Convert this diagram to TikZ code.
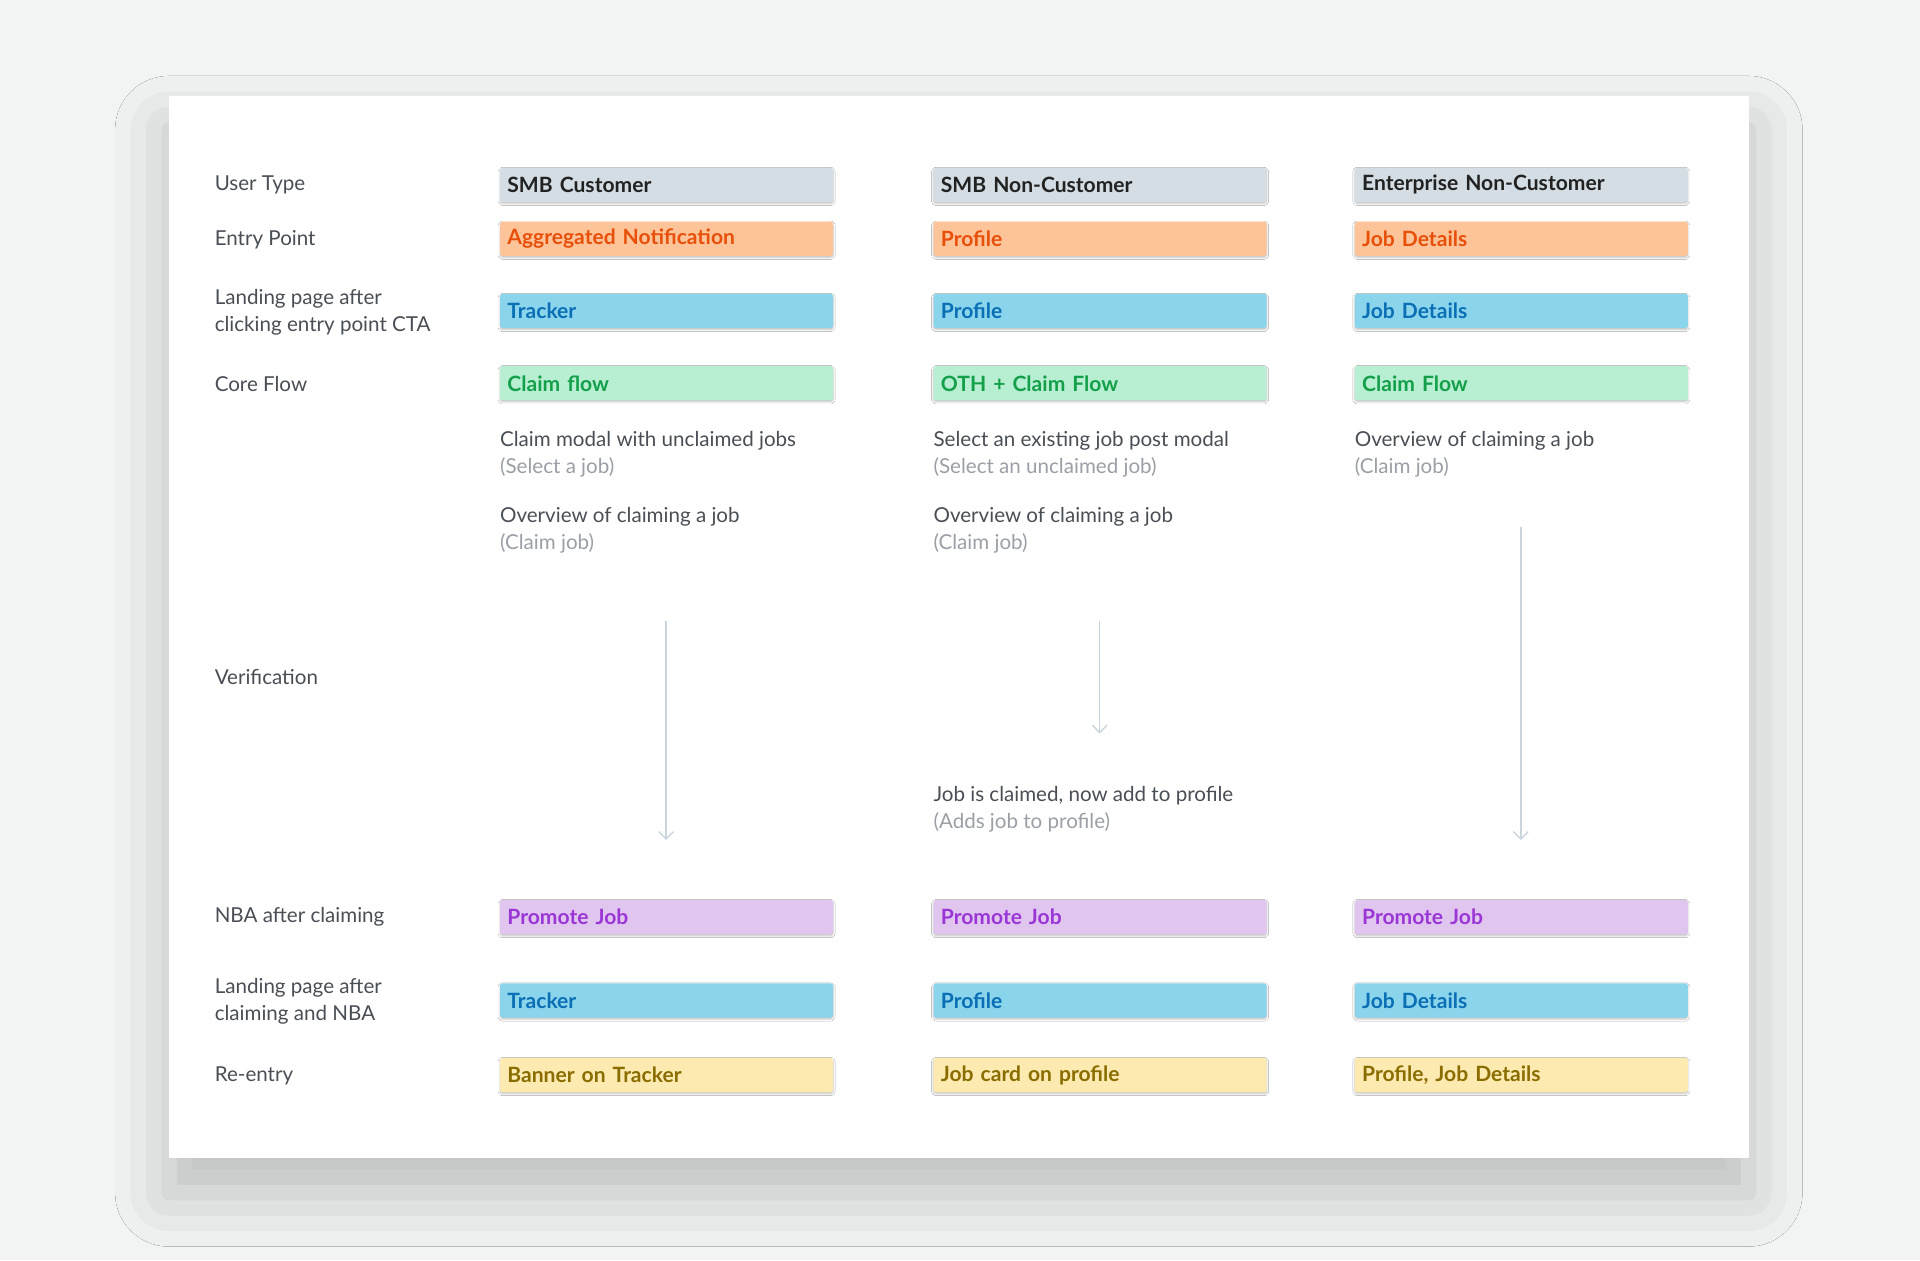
\documentclass[tikz,border=0pt]{standalone}
\usepackage{fontspec}
\setmainfont{Lato}
\usetikzlibrary{arrows.meta,shadows.blur}
\definecolor{bg}{HTML}{F2F3F3}
\definecolor{lbl}{HTML}{4A4F55}
\definecolor{sub}{HTML}{9AA0A6}
\definecolor{arr}{HTML}{C9D6DE}
\definecolor{gbox}{HTML}{D3DDE3}\definecolor{gtxt}{HTML}{222222}
\definecolor{obox}{HTML}{FDC49A}\definecolor{otxt}{HTML}{E8500A}
\definecolor{bbox}{HTML}{8AD4EC}\definecolor{btxt}{HTML}{0B6FB5}
\definecolor{ebox}{HTML}{B8EED2}\definecolor{etxt}{HTML}{14A04A}
\definecolor{pbox}{HTML}{E0C6EE}\definecolor{ptxt}{HTML}{9B36D6}
\definecolor{ybox}{HTML}{FDEAB0}\definecolor{ytxt}{HTML}{8A6D00}
\tikzset{
 x=0.5pt,y=-0.5pt,
 tag/.style 2 args={fill=#1,text=#2,font=\bfseries\fontsize{8.6}{10}\selectfont,minimum width=136pt,minimum height=14pt,text width=130pt,align=left,inner sep=0pt,anchor=west,rounded corners=0.8pt,blur shadow={shadow xshift=0pt,shadow yshift=-0.6pt,shadow blur radius=0.8pt,shadow opacity=25}},
 rowlbl/.style={text=lbl,font=\fontsize{8.4}{11}\selectfont,anchor=west,align=left,inner sep=0pt},
 desc/.style={anchor=north west,align=left,inner sep=0pt,font=\fontsize{8.4}{11}\selectfont,text=lbl},
 flow/.style={draw=arr,line width=0.6pt,-{Straight Barb[length=3pt,width=6pt]}}
}
\newcommand{\subt}[1]{\textcolor{sub}{#1}}
\begin{document}
\begin{tikzpicture}
\fill[bg] (0,0) rectangle (1568,1029);
\useasboundingbox (0,0) rectangle (1568,1029);
\fill[white,blur shadow={shadow xshift=0pt,shadow yshift=-14pt,shadow blur radius=22pt,shadow opacity=22}] (138,78) rectangle (1428,946);
% row labels
\node[rowlbl] (l1) at (175,151) {User Type};
\node[rowlbl] (l2) at (175,196) {Entry Point};
\node[rowlbl] (l3) at (175,255) {Landing page after\\clicking entry point CTA};
\node[rowlbl] (l4) at (175,314) {Core Flow};
\node[rowlbl] (l5) at (175,553) {Verification};
\node[rowlbl] (l6) at (175,749) {NBA after claiming};
\node[rowlbl] (l7) at (175,818) {Landing page after\\claiming and NBA};
\node[rowlbl] (l8) at (175,879) {Re-entry};
% column 1
\node[tag={gbox}{gtxt}] (a1) at (408,151) {SMB Customer};
\node[tag={obox}{otxt}] (a2) at (408,195) {Aggregated Notification};
\node[tag={bbox}{btxt}] (a3) at (408,254) {Tracker};
\node[tag={ebox}{etxt}] (a4) at (408,313) {Claim flow};
\node[tag={pbox}{ptxt}] (a6) at (408,749) {Promote Job};
\node[tag={bbox}{btxt}] (a7) at (408,817) {Tracker};
\node[tag={ybox}{ytxt}] (a8) at (408,878) {Banner on Tracker};
% column 2
\node[tag={gbox}{gtxt}] (b1) at (762,151) {SMB Non-Customer};
\node[tag={obox}{otxt}] (b2) at (762,195) {Profile};
\node[tag={bbox}{btxt}] (b3) at (762,254) {Profile};
\node[tag={ebox}{etxt}] (b4) at (762,313) {OTH + Claim Flow};
\node[tag={pbox}{ptxt}] (b6) at (762,749) {Promote Job};
\node[tag={bbox}{btxt}] (b7) at (762,817) {Profile};
\node[tag={ybox}{ytxt}] (b8) at (762,878) {Job card on profile};
% column 3
\node[tag={gbox}{gtxt}] (c1) at (1106,151) {Enterprise Non-Customer};
\node[tag={obox}{otxt}] (c2) at (1106,195) {Job Details};
\node[tag={bbox}{btxt}] (c3) at (1106,254) {Job Details};
\node[tag={ebox}{etxt}] (c4) at (1106,313) {Claim Flow};
\node[tag={pbox}{ptxt}] (c6) at (1106,749) {Promote Job};
\node[tag={bbox}{btxt}] (c7) at (1106,817) {Job Details};
\node[tag={ybox}{ytxt}] (c8) at (1106,878) {Profile, Job Details};
% descriptions
\node[desc] (da1) at (408,352) {Claim modal with unclaimed jobs\\\subt{(Select a job)}};
\node[desc] (da2) at (408,414) {Overview of claiming a job\\\subt{(Claim job)}};
\node[desc] (db1) at (762,352) {Select an existing job post modal\\\subt{(Select an unclaimed job)}};
\node[desc] (db2) at (762,414) {Overview of claiming a job\\\subt{(Claim job)}};
\node[desc] (db3) at (762,642) {Job is claimed, now add to profile\\\subt{(Adds job to profile)}};
\node[desc] (dc1) at (1106,352) {Overview of claiming a job\\\subt{(Claim job)}};
% arrows
\coordinate (s1) at (544,507); \coordinate (e1) at (544,686);
\coordinate (s2) at (898,507); \coordinate (e2) at (898,599);
\coordinate (s3) at (1242,430); \coordinate (e3) at (1242,686);
\draw[flow] (s1) -- (e1);
\draw[flow] (s2) -- (e2);
\draw[flow] (s3) -- (e3);
\end{tikzpicture}
\end{document}
